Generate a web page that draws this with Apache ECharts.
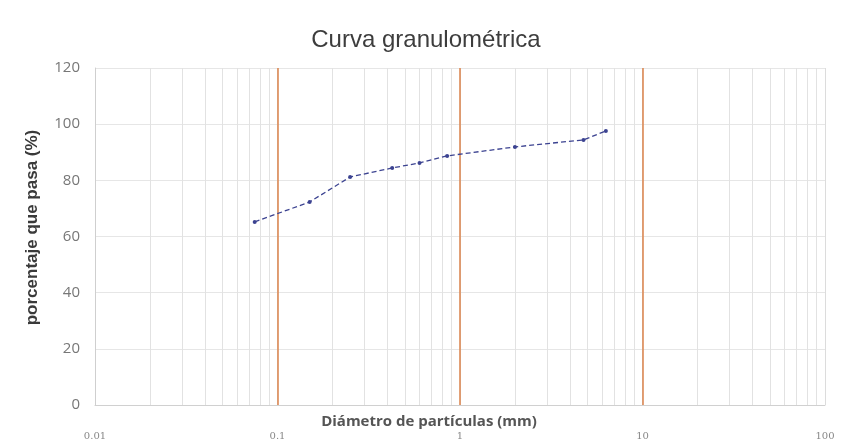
<!DOCTYPE html>
<html>
<head>
<meta charset="utf-8">
<script src="https://cdn.jsdelivr.net/npm/echarts@6/dist/echarts.min.js"></script>
<style>html,body{margin:0;padding:0;background:#fff}#c{width:842px;height:448px}</style>
</head>
<body>
<div id="c"></div>
<script>
// Diámetros de tamiz (mm) y porcentaje que pasa (%)
const diametros = [0.075, 0.15, 0.25, 0.425, 0.6, 0.85, 2, 4.75, 6.3];
const porcentajes = [65.2, 72.3, 81.2, 84.4, 86.2, 88.7, 91.9, 94.4, 97.6];
const lineasNaranja = [0.1, 1, 10];
const lineasMenores = [0.02,0.03,0.04,0.05,0.06,0.07,0.08,0.09,
  0.2,0.3,0.4,0.5,0.6,0.7,0.8,0.9,
  2,3,4,5,6,7,8,9,
  20,30,40,50,60,70,80,90];
const yTicks = [0, 20, 40, 60, 80, 100, 120];

const chart = echarts.init(document.getElementById('c'));
chart.setOption({
  backgroundColor: '#fff',
  animation: false,
  title: {
    text: 'Curva granulométrica',
    left: 421, top: 23, textAlign: 'center',
    textStyle: { fontFamily: 'Liberation Sans, Arial', fontSize: 24, fontWeight: 'normal', color: '#3d3d3d' }
  },
  graphic: [{
    type: 'text', x: 429, y: 422,
    style: {
      text: 'Diámetro de partículas (mm)', align: 'center', verticalAlign: 'middle',
      font: 'bold 15px "Open Sans", "DejaVu Sans"', fill: '#555'
    }
  }],
  grid: { left: 95, right: 17, top: 68, bottom: 43 },
  xAxis: {
    type: 'log', logBase: 10, min: 0.01, max: 100,
    axisLine: { show: true, lineStyle: { color: '#d0d0d0' } },
    axisTick: { show: false },
    axisLabel: {
      margin: 26, color: '#888', fontFamily: 'DejaVu Serif, Liberation Serif', fontSize: 10,
      formatter: v => String(Number(v.toPrecision(3)))
    },
    splitLine: { show: true, lineStyle: { color: '#dcdcdc', width: 1 } }
  },
  yAxis: {
    type: 'value', min: 0, max: 120, interval: 20,
    name: 'porcentaje que pasa (%)',
    nameLocation: 'middle', nameGap: 54,
    nameTextStyle: { fontFamily: 'Liberation Sans, Arial', fontSize: 17, fontWeight: 'bold', color: '#3a3a3a', padding: [0, 0, 0, 18] },
    axisLine: { show: true, lineStyle: { color: '#cfcfcf' } },
    axisTick: { show: false },
    axisLabel: { margin: 15, color: '#777', fontFamily: 'Open Sans, Liberation Sans', fontSize: 15 },
    splitLine: { show: true, lineStyle: { color: '#e6e6e6', width: 1 } }
  },
  series: [
    {
      type: 'line',
      data: diametros.map((d, i) => [d, porcentajes[i]]),
      symbol: 'circle', symbolSize: 4,
      lineStyle: { color: '#3c4391', width: 1.3, type: [5, 3] },
      itemStyle: { color: '#3c4391' },
      z: 5,
      markLine: {
        silent: true, symbol: 'none', label: { show: false },
        data: lineasNaranja.map(v => ({ xAxis: v })),
        lineStyle: { color: '#dd8a55', width: 1.6, type: 'solid' }
      }
    },
    {
      type: 'line', data: [],
      markLine: {
        silent: true, symbol: 'none', label: { show: false },
        data: lineasMenores.map(v => ({ xAxis: v })),
        lineStyle: { color: '#e2e2e2', width: 1, type: 'solid' }
      }
    }
  ]
});
</script>
</body>
</html>
